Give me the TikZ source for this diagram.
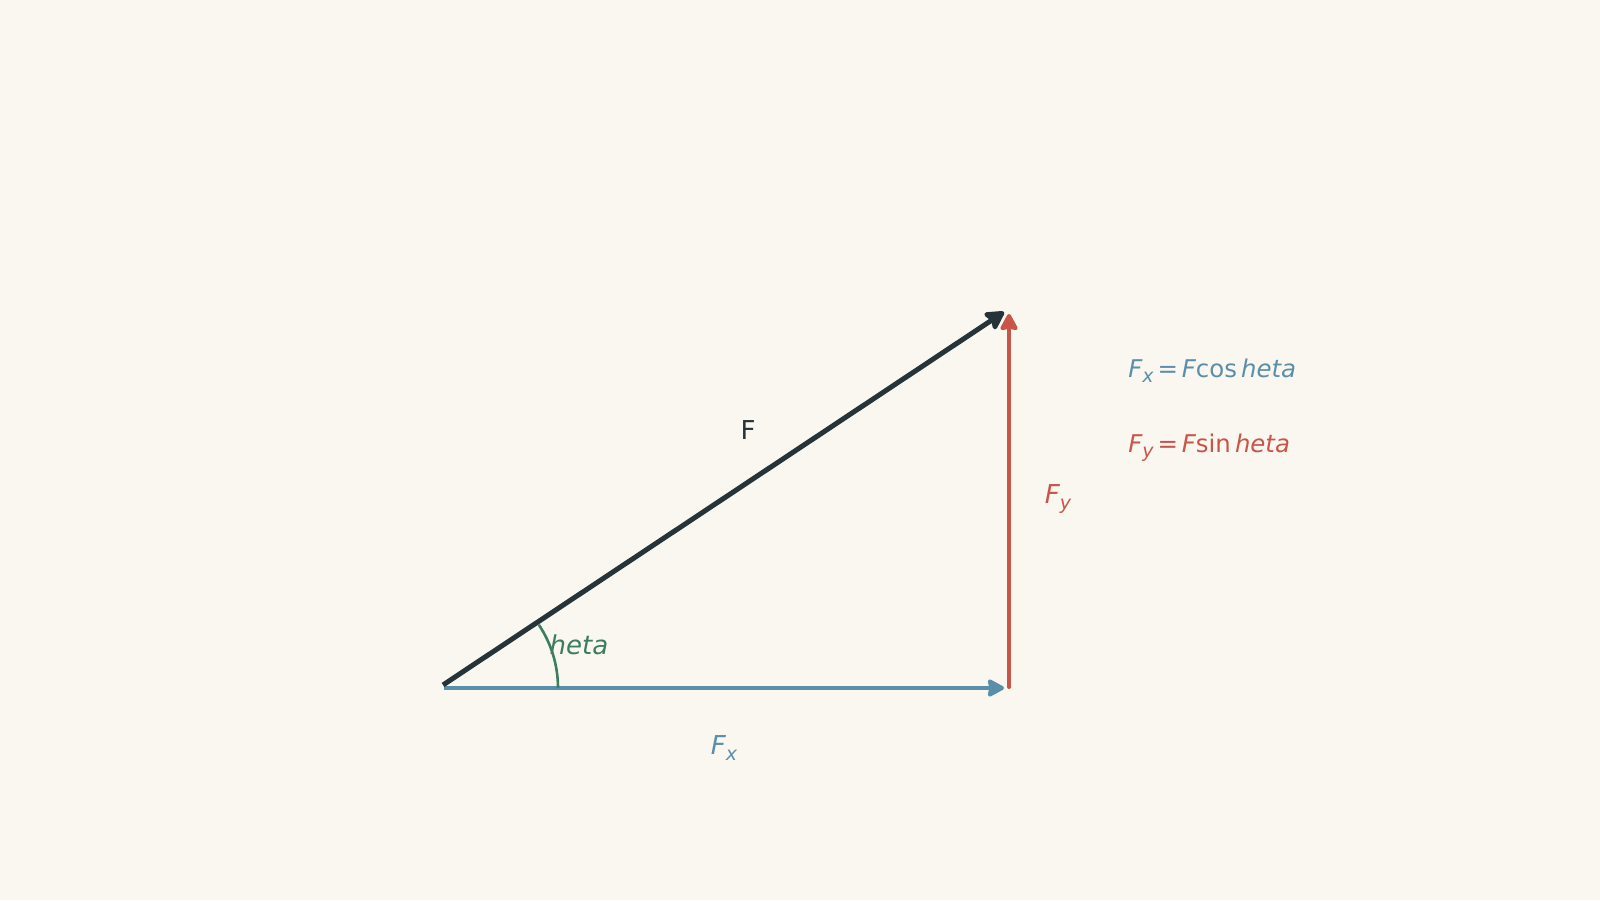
\documentclass[tikz,border=0pt]{standalone}
\usepackage{fontspec}
\setmainfont{DejaVu Sans}
\usetikzlibrary{arrows.meta}
\definecolor{bg}{RGB}{250,247,240}
\definecolor{dark}{RGB}{38,52,58}
\definecolor{blu}{RGB}{91,143,169}
\definecolor{rd}{RGB}{199,85,72}
\definecolor{grn}{RGB}{61,125,98}
\newcommand{\sbs}[1]{\raisebox{-0.22em}{\fontsize{9.5}{10}\selectfont\itshape #1}}
\newcommand{\eqsign}{\hspace{0.16em}=\hspace{0.16em}}
\begin{document}
\begin{tikzpicture}[x=0.5pt,y=0.5pt,
  lbl/.style={inner sep=0pt,font=\fontsize{13}{15}\selectfont},
  eqn/.style={inner sep=0pt,anchor=west,font=\fontsize{12.2}{15}\selectfont},
  vecF/.style={draw=dark,line width=2.5pt,-{Stealth[length=11pt,width=12pt,inset=2pt,round]}},
  vecX/.style={draw=blu,line width=2pt,-{Stealth[length=9.5pt,width=10pt,inset=1pt,round]}},
  vecY/.style={draw=rd,line width=2pt,line cap=round,-{Stealth[length=9.5pt,width=10pt,inset=1pt,round]}}]
\useasboundingbox (0,0) rectangle (1600,900);
\fill[bg] (0,0) rectangle (1600,900);
\coordinate (o) at (444,212);
\coordinate (fs) at (443,215);
\coordinate (ft) at (1004,588);
\coordinate (xe) at (1004,212);
\coordinate (ys) at (1009,213);
\coordinate (ye) at (1009,586);
\coordinate (as) at (558,212);
\draw[vecX] (o) -- (xe);
\draw[vecY] (ys) -- (ye);
\draw[vecF] (fs) -- (ft);
\draw[grn,line width=1.3pt] (as) arc[start angle=0,end angle=33.7,radius=114];
\node[lbl,text=dark] (lF) at (748,470) {F};
\node[lbl,text=grn] (lt) at (579,255) {\itshape heta};
\node[lbl,text=blu] (lx) at (724,152) {\itshape F\sbs{x}};
\node[lbl,text=rd] (ly) at (1058,401) {\itshape F\sbs{y}};
\node[eqn,text=blu] (ex) at (1128,529) {{\itshape F}\sbs{x}\eqsign{\itshape F}cos\,{\itshape heta}};
\node[eqn,text=rd] (ey) at (1128,452) {{\itshape F}\sbs{y}\eqsign{\itshape F}sin\,{\itshape heta}};
\end{tikzpicture}
\end{document}
